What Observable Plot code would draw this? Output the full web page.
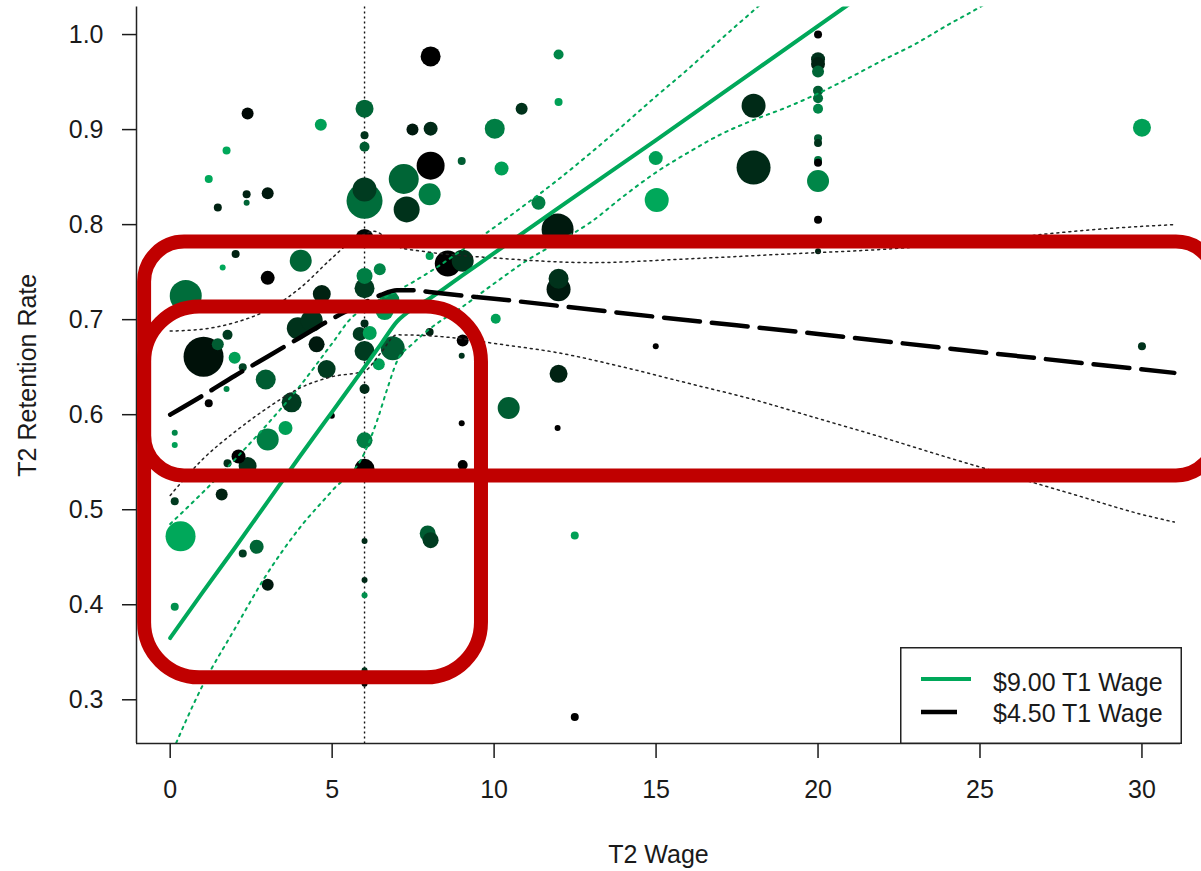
<!DOCTYPE html>
<html>
<head>
<meta charset="utf-8">
<script src="https://cdn.jsdelivr.net/npm/d3@7"></script>
<script src="https://cdn.jsdelivr.net/npm/@observablehq/plot@0.6"></script>
<style>
  html, body { margin: 0; padding: 0; background: #fff; }
  #wrap { position: relative; width: 1201px; height: 871px; overflow: hidden; }
  #legend { position: absolute; left: 900px; top: 647px; }
</style>
</head>
<body>
<div id="wrap"></div>
<script>
// ---- Scatter points: T2 wage, T2 retention rate, share (0 = $9.00 T1 wage green, 1 = $4.50 black), relative sample size
const wage = [1.19,1.74,1.47,2.36,2.36,3.01,2.39,4.65,2.02,1.62,3.01,4.03,0.48,4.68,1.03,1.47,1.77,1.99,2.24,2.95,
  1.19,1.74,3.75,3.56,3.01,0.14,0.14,2.11,2.39,1.77,1.59,0.14,0.32,2.67,2.24,3.01,0.14,
  6,6,6,6,6,6,6,6,6,6,6,6,6,6,6,6,6,6,
  5.85,6.16,6.47,6.44,6.87,6.77,6.62,3.94,4.37,4.52,4.83,4.99,
  7.21,7.30,7.48,8.04,8.04,8.04,8.01,8.01,8.57,9.03,8.01,9.03,9.0,9.0,9.0,9.03,7.95,8.04,
  10.02,10.23,10.05,10.45,10.85,11.37,11.99,11.99,11.96,11.99,11.99,11.99,11.96,12.49,12.49,
  14.99,15.02,14.99,18.01,18.01,
  20,20,20,20,20,20,20,20,20,20,20,20,20,20,30,30];
const retention = [0.848,0.878,0.818,0.832,0.823,0.833,0.917,0.905,0.769,0.755,0.744,0.762,0.725,0.727,0.661,0.674,0.684,0.660,0.650,0.637,
  0.612,0.627,0.613,0.586,0.574,0.581,0.568,0.556,0.546,0.549,0.516,0.509,0.472,0.461,0.454,0.421,0.398,
  0.922,0.894,0.882,0.837,0.825,0.786,0.746,0.733,0.696,0.667,0.627,0.573,0.543,0.467,0.426,0.410,0.331,0.317,
  0.685,0.686,0.753,0.653,0.670,0.720,0.709,0.691,0.699,0.674,0.648,0.599,
  0.848,0.816,0.900,0.901,0.977,0.862,0.832,0.767,0.759,0.762,0.687,0.678,0.662,0.867,0.591,0.547,0.475,0.468,
  0.901,0.859,0.701,0.607,0.922,0.823,0.979,0.929,0.795,0.743,0.732,0.643,0.586,0.473,0.282,
  0.870,0.826,0.672,0.925,0.860,
  1.000,0.974,0.969,0.961,0.941,0.933,0.922,0.891,0.886,0.868,0.865,0.846,0.805,0.772,0.902,0.672];
const share = [0,0,0.8,0.8,0.4,0.85,0.95,0.05,0.8,0,1,0.4,0.35,0.8,0.9,0.45,0.65,0.05,0.6,0.45,
  1,0.2,0.65,0.05,0.25,0.2,0.05,1,0.7,0.7,0.8,0.65,0,0.4,0.65,0.85,0.15,
  0.4,0.7,0.45,0.65,0.35,0.95,0.25,0.65,0.75,0.65,0.75,0.25,1,0.75,0.75,0.15,0.7,0.95,
  0.65,0.05,0.2,0.05,0.45,0.2,0.1,0.7,0.7,0.85,0.65,1,
  0.4,0.7,0.85,0.75,1,1,0.25,0.05,1,0.7,0.8,1,0.7,0.45,1,1,0.45,0.65,
  0.25,0.05,0.05,0.45,0.7,0.25,0.2,0.05,0.85,0.7,0.85,0.8,1,0.05,1,
  0.05,0,1,0.75,0.75,
  1,0.7,0.8,0.4,0.45,0.35,0.2,0.45,0.7,0.3,1,0.2,1,0.8,0.05,0.7];
const sampleSize = [16,16,16,16,9,36,36,36,16,9,49,121,256,81,400,36,25,36,16,100,
  16,9,100,49,121,9,9,49,81,16,36,16,225,49,16,36,16,
  81,16,25,144,324,81,64,100,16,100,25,64,100,9,9,9,9,9,
  49,49,36,36,144,100,81,121,121,64,81,9,
  225,169,36,49,100,196,121,16,169,121,16,36,9,16,9,25,64,64,
  100,49,25,121,36,49,25,16,256,100,144,81,9,16,16,
  49,144,9,144,289,
  16,49,49,36,25,25,25,16,16,16,16,121,16,9,81,16];

// ---- Fitted curves and confidence bands
const fit9X  = [0,1,2,3,4,5,6,6.5,7,7.5,8,9,10,12,15,18,21];
const fit9Y  = [0.365,0.413,0.460,0.508,0.556,0.603,0.650,0.674,0.698,0.712,0.722,0.746,0.770,0.818,0.889,0.961,1.033];
const ci9HiX = [0,1,2,3,4,5,5.6,6,7,8,9,10,11,12,13,14,15,16,17,18,18.5];
const ci9Hi  = [0.485,0.518,0.553,0.590,0.630,0.675,0.702,0.712,0.730,0.750,0.773,0.797,0.822,0.848,0.876,0.905,0.935,0.964,0.995,1.025,1.04];
const ci9LoX = [0,1,2,3,4,5,6,6.4,6.7,7,7.5,8,9,10,11,12,13,14,15,16,17,18,19,20,21,22,23,24,25,25.5];
const ci9Lo  = [0.24,0.315,0.375,0.433,0.481,0.52,0.560,0.595,0.627,0.656,0.675,0.690,0.713,0.738,0.762,0.782,0.803,0.830,0.855,0.876,0.895,0.910,0.923,0.938,0.955,0.973,0.99,1.01,1.029,1.04];
const fit45X = [0,1,2,3,4,5,6,6.5,7,7.5,8,10,15,20,25,31];
const fit45Y = [0.600,0.620,0.641,0.661,0.681,0.701,0.718,0.726,0.731,0.731,0.729,0.722,0.703,0.685,0.666,0.644];
const ci45HiX = [0,1,2,3,4,5,5.5,6,6.3,6.7,7,8,10,13,16,19,22,25,27,29,31];
const ci45Hi  = [0.688,0.690,0.697,0.710,0.733,0.765,0.780,0.790,0.793,0.785,0.777,0.771,0.765,0.760,0.764,0.769,0.774,0.782,0.790,0.796,0.800];
const ci45LoX = [0,1,2,3,4,5,6,6.5,7,8,9,10,12,14,16,18,20,22,24,26,28,30,31];
const ci45Lo  = [0.515,0.553,0.582,0.607,0.628,0.640,0.646,0.665,0.684,0.683,0.680,0.675,0.665,0.650,0.633,0.616,0.596,0.576,0.555,0.535,0.515,0.495,0.487];

// ---- Reference line and highlight boxes (data coordinates)
const refWage = [6];
const boxX1 = [-0.79, -0.79];
const boxX2 = [32.3, 9.61];
const boxY1 = [0.5355, 0.3231];
const boxY2 = [0.7816, 0.7133];

// ---- Axes
const xTicks = [0,5,10,15,20,25,30];
const yTicks = [0.3,0.4,0.5,0.6,0.7,0.8,0.9,1.0];
const xDomain = [-1.04, 31.19];
const yDomain = [0.254, 1.029];
const legendLabels = ["$9.00 T1 Wage", "$4.50 T1 Wage"];

const GREEN = "#00a85a";
const points = wage.map((w, i) => ({x: w, y: retention[i], s: share[i], n: sampleSize[i]}))
  .sort((a, b) => b.n - a.n);
const series = (xs, ys) => xs.map((x, i) => ({x, y: ys[i]}));
const boxes = boxX1.map((x1, i) => ({x1, x2: boxX2[i], y1: boxY1[i], y2: boxY2[i]}));

const chart = Plot.plot({
  width: 1201,
  height: 871,
  marginLeft: 136,
  marginRight: 21,
  marginTop: 6.5,
  marginBottom: 128,
  x: {domain: xDomain},
  y: {domain: yDomain},
  r: {type: "sqrt", domain: [0, 400], range: [0, 20]},
  color: {type: "linear", domain: [0, 1], range: [GREEN, "#000000"], interpolate: "rgb"},
  style: {fontSize: "25px", fontFamily: "'Liberation Sans', Arial, sans-serif", color: "#1a1a1a", background: "#fff"},
  marks: [
    Plot.ruleX(refWage, {stroke: "#111", strokeWidth: 1.4, strokeDasharray: "2,3"}),
    Plot.dot(points, {x: "x", y: "y", r: "n", fill: "s"}),
    Plot.line(series(ci9HiX, ci9Hi), {x: "x", y: "y", stroke: GREEN, strokeWidth: 2, strokeDasharray: "2.5,5", curve: "monotone-x", clip: true}),
    Plot.line(series(ci9LoX, ci9Lo), {x: "x", y: "y", stroke: GREEN, strokeWidth: 2, strokeDasharray: "2.5,5", curve: "monotone-x", clip: true}),
    Plot.line(series(ci45HiX, ci45Hi), {x: "x", y: "y", stroke: "#222", strokeWidth: 1.5, strokeDasharray: "2,4", curve: "monotone-x", clip: true}),
    Plot.line(series(ci45LoX, ci45Lo), {x: "x", y: "y", stroke: "#222", strokeWidth: 1.5, strokeDasharray: "2,4", curve: "monotone-x", clip: true}),
    Plot.line(series(fit9X, fit9Y), {x: "x", y: "y", stroke: GREEN, strokeWidth: 4, curve: "monotone-x", clip: true}),
    Plot.line(series(fit45X, fit45Y), {x: "x", y: "y", stroke: "#000", strokeWidth: 4.5, strokeDasharray: "36,12", curve: "monotone-x", clip: true}),
    Plot.ruleX([xDomain[0]], {stroke: "#222", strokeWidth: 1.5}),
    Plot.ruleY([yDomain[0]], {stroke: "#222", strokeWidth: 1.5}),
    Plot.axisX({ticks: xTicks, tickSize: 15, tickPadding: 22, strokeWidth: 1.5, label: "T2 Wage", labelAnchor: "center", labelArrow: "none", labelOffset: 119}),
    Plot.axisY({ticks: yTicks, tickFormat: d3.format(".1f"), tickSize: 14, tickPadding: 19, strokeWidth: 1.5, label: "T2 Retention Rate", labelAnchor: "center", labelArrow: "none", labelOffset: 118}),
    Plot.rect([boxes[0]], {x1: "x1", x2: "x2", y1: "y1", y2: "y2", rx: 40, fill: "none", stroke: "#c00000", strokeWidth: 14}),
    Plot.rect([boxes[1]], {x1: "x1", x2: "x2", y1: "y1", y2: "y2", rx: 55, fill: "none", stroke: "#c00000", strokeWidth: 14})
  ]
});
const wrap = document.getElementById("wrap");
wrap.appendChild(chart);

// Legend box (bottom-right, inside the plot)
const ns = "http://www.w3.org/2000/svg";
const lg = document.createElementNS(ns, "svg");
lg.setAttribute("id", "legend");
lg.setAttribute("width", 282);
lg.setAttribute("height", 97);
lg.innerHTML = `
  <rect x="0.75" y="0.75" width="280.5" height="95.5" fill="#fff" stroke="#222" stroke-width="1.5"/>
  <line x1="21" x2="71" y1="32" y2="32" stroke="${GREEN}" stroke-width="4"/>
  <line x1="21" x2="57" y1="65" y2="65" stroke="#000" stroke-width="4.5"/>
  <text x="93" y="44" font-family="'Liberation Sans', Arial, sans-serif" font-size="25" fill="#1a1a1a">${legendLabels[0]}</text>
  <text x="93" y="75" font-family="'Liberation Sans', Arial, sans-serif" font-size="25" fill="#1a1a1a">${legendLabels[1]}</text>`;
wrap.appendChild(lg);
</script>
</body>
</html>
